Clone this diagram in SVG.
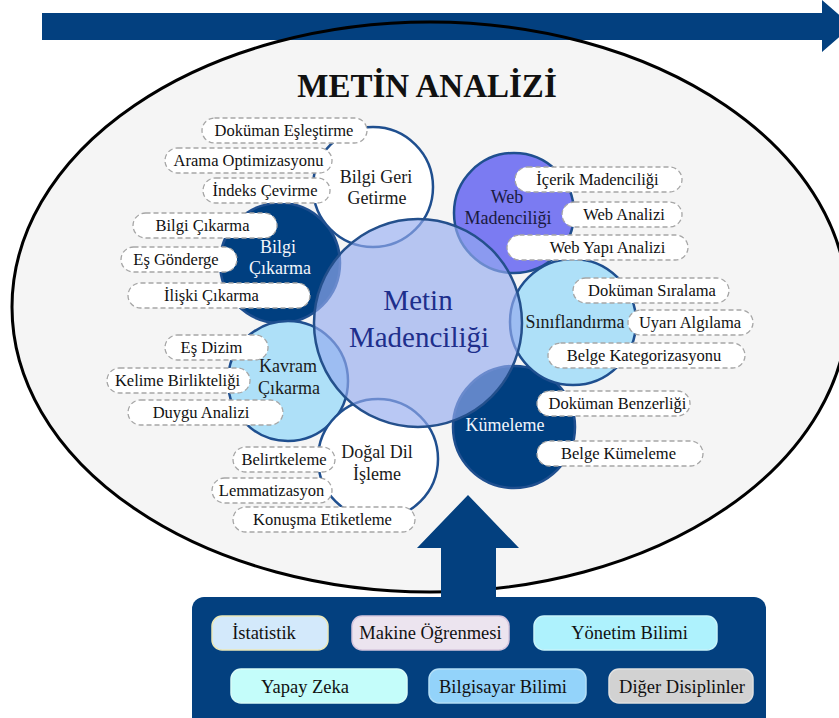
<svg xmlns="http://www.w3.org/2000/svg" width="839" height="718" viewBox="0 0 839 718">
  <style>
    .sat { stroke: #1f4f8f; stroke-width: 2.5; }
    .pill { fill: #ffffff; stroke: #a6a6a6; stroke-width: 1.3; stroke-dasharray: 5 3; }
    .pt { font-family: "Liberation Serif", "Times New Roman", serif; font-size: 16.5px; fill: #111111; text-anchor: middle; }
    .ct { font-family: "Liberation Serif", "Times New Roman", serif; font-size: 18px; text-anchor: middle; }
    .dark { fill: #1a1a1a; }
    .light { fill: #f2f5fb; }
    .bt { font-family: "Liberation Serif", "Times New Roman", serif; font-size: 18.5px; fill: #111111; text-anchor: middle; }
    .flow { fill: #03407f; }
  </style>

  <!-- background oval -->
  <g id="oval">
    <ellipse cx="430" cy="307" rx="418" ry="285" fill="#f5f5f5"/>
  </g>

  <g id="connectors">
    <!-- process arrow across the top -->
    <polygon class="flow" points="42,13 822,13 822,0 852,26 822,52 822,40 42,40"/>
  </g>

  <ellipse id="oval-outline" cx="430" cy="307" rx="418" ry="285" fill="none" stroke="#000000" stroke-width="3"/>

  <g id="title">
    <text x="427" y="97" font-family="Liberation Serif, Times New Roman, serif" font-size="33" font-weight="bold" text-anchor="middle" fill="#111111">METİN ANALİZİ</text>
  </g>

  <!-- satellite circles -->
  <g id="kumeleme-circle"><circle class="sat" cx="514" cy="427" r="61" fill="#003f80" stroke="#1a3fa0"/></g>
  <g id="bilgi-cikarma-circle"><circle class="sat" cx="280" cy="263" r="60" fill="#003f80"/></g>
  <g id="bilgi-geri-circle"><circle class="sat" cx="373" cy="187" r="60" fill="#ffffff"/></g>
  <g id="kavram-circle"><circle class="sat" cx="288" cy="381" r="60" fill="#aee0f8"/></g>
  <g id="dogal-dil-circle"><circle class="sat" cx="378" cy="459" r="60" fill="#ffffff"/></g>
  <g id="web-circle"><circle class="sat" cx="514" cy="213" r="60" fill="#7b7bf2"/></g>
  <g id="siniflandirma-circle"><circle class="sat" cx="573" cy="322" r="63" fill="#aee0f8"/></g>

  <!-- central hub -->
  <g id="metin-madenciligi">
    <circle cx="418" cy="323" r="104" fill="#93abee" fill-opacity="0.65" stroke="#24508c" stroke-width="2.5"/>
    <text x="418" y="310" font-family="Liberation Serif, Times New Roman, serif" font-size="29" text-anchor="middle" fill="#1e2f8c">Metin</text>
    <text x="419" y="347" font-family="Liberation Serif, Times New Roman, serif" font-size="29" text-anchor="middle" fill="#1e2f8c">Madenciliği</text>
  </g>

  <!-- Bilgi Geri Getirme -->
  <g id="bilgi-geri-getirme">
    <text class="ct dark" x="376" y="183">Bilgi Geri</text>
    <text class="ct dark" x="377" y="204">Getirme</text>
    <rect class="pill" x="202" y="118" width="165" height="25" rx="12.5"/>
    <text class="pt" x="284" y="136">Doküman Eşleştirme</text>
    <rect class="pill" x="165" y="148" width="167" height="25" rx="12.5"/>
    <text class="pt" x="248.5" y="166">Arama Optimizasyonu</text>
    <rect class="pill" x="203" y="178" width="127" height="25" rx="12.5"/>
    <text class="pt" x="265" y="196">İndeks Çevirme</text>
  </g>

  <!-- Bilgi Çıkarma -->
  <g id="bilgi-cikarma">
    <text class="ct light" x="278" y="253">Bilgi</text>
    <text class="ct light" x="280" y="274">Çıkarma</text>
    <rect class="pill" x="133" y="213" width="144" height="25" rx="12.5"/>
    <text class="pt" x="202.5" y="231">Bilgi Çıkarma</text>
    <rect class="pill" x="121" y="247" width="116" height="25" rx="12.5"/>
    <text class="pt" x="176" y="265">Eş Gönderge</text>
    <rect class="pill" x="128" y="283" width="182" height="25" rx="12.5"/>
    <text class="pt" x="211.5" y="301">İlişki Çıkarma</text>
  </g>

  <!-- Kavram Çıkarma -->
  <g id="kavram-cikarma">
    <text class="ct dark" x="288" y="372">Kavram</text>
    <text class="ct dark" x="289" y="394">Çıkarma</text>
    <rect class="pill" x="165" y="335" width="103" height="25" rx="12.5"/>
    <text class="pt" x="211.5" y="353">Eş Dizim</text>
    <rect class="pill" x="107" y="368" width="143" height="25" rx="12.5"/>
    <text class="pt" x="177.5" y="386">Kelime Birlikteliği</text>
    <rect class="pill" x="128" y="400" width="155" height="25" rx="12.5"/>
    <text class="pt" x="201" y="418">Duygu Analizi</text>
  </g>

  <!-- Doğal Dil İşleme -->
  <g id="dogal-dil-isleme">
    <text class="ct dark" x="377" y="458">Doğal Dil</text>
    <text class="ct dark" x="377" y="480">İşleme</text>
    <rect class="pill" x="233" y="447" width="102" height="25" rx="12.5"/>
    <text class="pt" x="284" y="465">Belirtkeleme</text>
    <rect class="pill" x="212" y="478" width="120" height="25" rx="12.5"/>
    <text class="pt" x="271.5" y="496">Lemmatizasyon</text>
    <rect class="pill" x="233" y="507" width="182" height="25" rx="12.5"/>
    <text class="pt" x="322.5" y="525">Konuşma Etiketleme</text>
  </g>

  <!-- Web Madenciliği -->
  <g id="web-madenciligi">
    <text class="ct" x="507" y="203" fill="#1a1a40">Web</text>
    <text class="ct" x="508" y="224" fill="#1a1a40">Madenciliği</text>
    <rect class="pill" x="515" y="167" width="167" height="25" rx="12.5"/>
    <text class="pt" x="597.5" y="185">İçerik Madenciliği</text>
    <rect class="pill" x="562" y="202" width="120" height="25" rx="12.5"/>
    <text class="pt" x="624" y="220">Web Analizi</text>
    <rect class="pill" x="507" y="235" width="181" height="25" rx="12.5"/>
    <text class="pt" x="607.5" y="253">Web Yapı Analizi</text>
  </g>

  <!-- Sınıflandırma -->
  <g id="siniflandirma">
    <text class="ct dark" x="575" y="328">Sınıflandırma</text>
    <rect class="pill" x="573" y="278" width="156" height="25" rx="12.5"/>
    <text class="pt" x="652" y="296">Doküman Sıralama</text>
    <rect class="pill" x="628" y="310" width="125" height="25" rx="12.5"/>
    <text class="pt" x="690" y="328">Uyarı Algılama</text>
    <rect class="pill" x="548" y="343" width="197" height="25" rx="12.5"/>
    <text class="pt" x="644" y="361">Belge Kategorizasyonu</text>
  </g>

  <!-- Kümeleme -->
  <g id="kumeleme">
    <text class="ct light" x="505" y="431">Kümeleme</text>
    <rect class="pill" x="537" y="391" width="153" height="25" rx="12.5"/>
    <text class="pt" x="617.5" y="409">Doküman Benzerliği</text>
    <rect class="pill" x="537" y="441" width="166" height="25" rx="12.5"/>
    <text class="pt" x="618.5" y="459">Belge Kümeleme</text>
  </g>

  <!-- upward arrow feeding the oval -->
  <g id="connectors-up">
    <polygon class="flow" points="468,495 519,548 496,548 496,600 441,600 441,548 417,548"/>
  </g>

  <!-- contributing disciplines -->
  <g id="disiplinler">
    <rect x="192" y="597" width="574" height="135" rx="12" fill="#03407f"/>
    <rect x="212" y="616" width="116" height="34" rx="10" fill="#d3e9fb" stroke="#ece8b8" stroke-width="1.5"/>
    <text class="bt" x="264" y="639">İstatistik</text>
    <rect x="352" y="616" width="157" height="34" rx="10" fill="#ece4ef" stroke="#d6c6de" stroke-width="1.5"/>
    <text class="bt" x="430.5" y="639">Makine Öğrenmesi</text>
    <rect x="534" y="616" width="183" height="34" rx="10" fill="#aef2fd" stroke="#c8f4fa" stroke-width="1.5"/>
    <text class="bt" x="629.5" y="639">Yönetim Bilimi</text>
    <rect x="231" y="669" width="176" height="34" rx="10" fill="#c4fdfa" stroke="#d8fbf8" stroke-width="1.5"/>
    <text class="bt" x="305" y="693">Yapay Zeka</text>
    <rect x="429" y="669" width="157" height="34" rx="10" fill="#93d3fa" stroke="#b4def6" stroke-width="1.5"/>
    <text class="bt" x="503" y="693">Bilgisayar Bilimi</text>
    <rect x="609" y="669" width="144" height="34" rx="10" fill="#d2d2d2" stroke="#e0e0e0" stroke-width="1.5"/>
    <text class="bt" x="682" y="693">Diğer Disiplinler</text>
  </g>
</svg>
